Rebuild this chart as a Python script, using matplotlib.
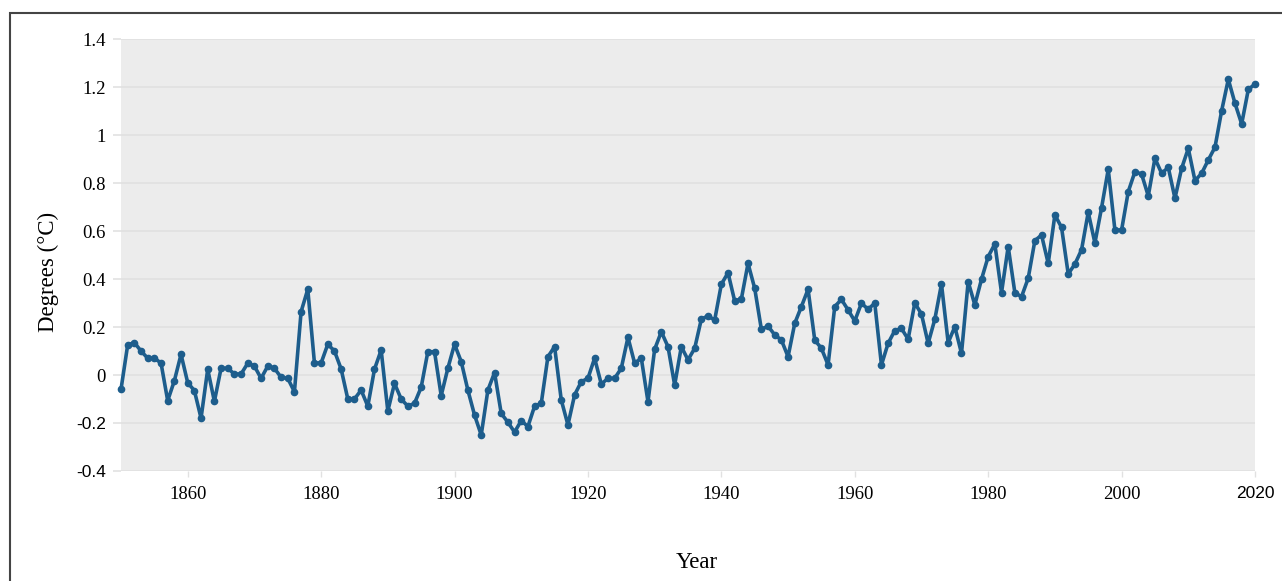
import numpy as np
import matplotlib.pyplot as plt
from matplotlib.patches import Rectangle

# annual temperature anomaly
years = np.arange(1850, 2021)
anomaly = [
    # 1850-1879
    -0.06, 0.125, 0.135, 0.10, 0.07, 0.07, 0.05, -0.107, -0.024, 0.086,
    -0.032, -0.065, -0.18, 0.024, -0.11, 0.028, 0.028, 0.004, 0.004, 0.049,
    0.037, -0.014, 0.037, 0.028, -0.01, -0.014, -0.07, 0.264, 0.357, 0.05,
    # 1880-1909
    0.05, 0.128, 0.10, 0.025, -0.10, -0.10, -0.063, -0.13, 0.024, 0.104,
    -0.15, -0.035, -0.10, -0.13, -0.118, -0.051, 0.097, 0.097, -0.086, 0.028,
    0.128, 0.056, -0.063, -0.167, -0.25, -0.063, 0.01, -0.16, -0.197, -0.238,
    # 1910-1939
    -0.19, -0.215, -0.13, -0.118, 0.076, 0.118, -0.104, -0.208, -0.083, -0.028,
    -0.014, 0.07, -0.038, -0.014, -0.014, 0.028, 0.157, 0.049, 0.07, -0.111,
    0.107, 0.18, 0.118, -0.042, 0.118, 0.063, 0.111, 0.233, 0.246, 0.229,
    # 1940-1969
    0.378, 0.426, 0.308, 0.317, 0.465, 0.361, 0.19, 0.204, 0.167, 0.146,
    0.076, 0.215, 0.285, 0.357, 0.146, 0.111, 0.042, 0.285, 0.315, 0.271,
    0.225, 0.299, 0.274, 0.299, 0.042, 0.132, 0.185, 0.194, 0.149, 0.30,
    # 1970-1999
    0.254, 0.132, 0.232, 0.379, 0.135, 0.201, 0.09, 0.389, 0.292, 0.399,
    0.493, 0.546, 0.343, 0.535, 0.343, 0.326, 0.403, 0.56, 0.583, 0.465,
    0.667, 0.615, 0.421, 0.462, 0.522, 0.678, 0.55, 0.697, 0.857, 0.604,
    # 2000-2020
    0.604, 0.764, 0.847, 0.837, 0.746, 0.903, 0.84, 0.865, 0.736, 0.861,
    0.944, 0.81, 0.84, 0.896, 0.949, 1.101, 1.232, 1.132, 1.046, 1.19,
    1.212,
]

yticks = [1.4, 1.2, 1.0, 0.8, 0.6, 0.4, 0.2, 0.0, -0.2, -0.4]
ytick_labels = ['1.4', '1.2', '1', '0.8', '0.6', '0.4', '0.2', '0', '-0.2', '-0.4']
xticks = [1860, 1880, 1900, 1920, 1940, 1960, 1980, 2000, 2020]

plt.rcParams['font.family'] = ['Liberation Serif', 'DejaVu Serif']

fig = plt.figure(figsize=(12.82, 5.81), dpi=100)
ax = fig.add_axes([121 / 1282, 1 - 471 / 581, (1255 - 121) / 1282, (471 - 39) / 581])

# black frame round the figure (only top and left show)
fig.patches.append(Rectangle((10 / 1282, -0.1), 1.2, 1 - 13 / 581 + 0.1,
                             transform=fig.transFigure, fill=False,
                             edgecolor='#444444', linewidth=1.5))

ax.set_facecolor('#ececec')
for s in ax.spines.values():
    s.set_visible(False)

ax.plot(years, anomaly, color='#1d5d8c', linewidth=2.6, marker='o',
        markersize=4.5, clip_on=False, zorder=3)

ax.set_xlim(1850, 2020)
ax.set_ylim(-0.4, 1.4)
ax.set_yticks(yticks)
ax.set_yticklabels(ytick_labels)
ax.set_xticks(xticks)
ax.yaxis.grid(True, color='#e1e1e1', linewidth=1.2)
ax.set_axisbelow(True)
ax.tick_params(axis='y', length=6, color='#e1e1e1', width=1.2, pad=5, labelsize=13.5)
ax.tick_params(axis='x', length=4, color='#e1e1e1', width=1, pad=7, labelsize=13.5)

# a few labels in the reference are set in a sans face
for lab in ax.get_yticklabels():
    if lab.get_text().startswith('-'):
        lab.set_fontfamily('Liberation Sans')
        lab.set_fontsize(12.5)
for lab in ax.get_xticklabels():
    if lab.get_text() == '2020':
        lab.set_fontfamily('Liberation Sans')
        lab.set_fontsize(12.5)

ax.set_ylabel('Degrees (°C)', fontsize=16.5)
ax.yaxis.set_label_coords(-0.055, 0.46)
ax.set_xlabel('Year', fontsize=16.5)
ax.xaxis.set_label_coords(0.508, -0.187)

fig.savefig('out.png', dpi=100)
